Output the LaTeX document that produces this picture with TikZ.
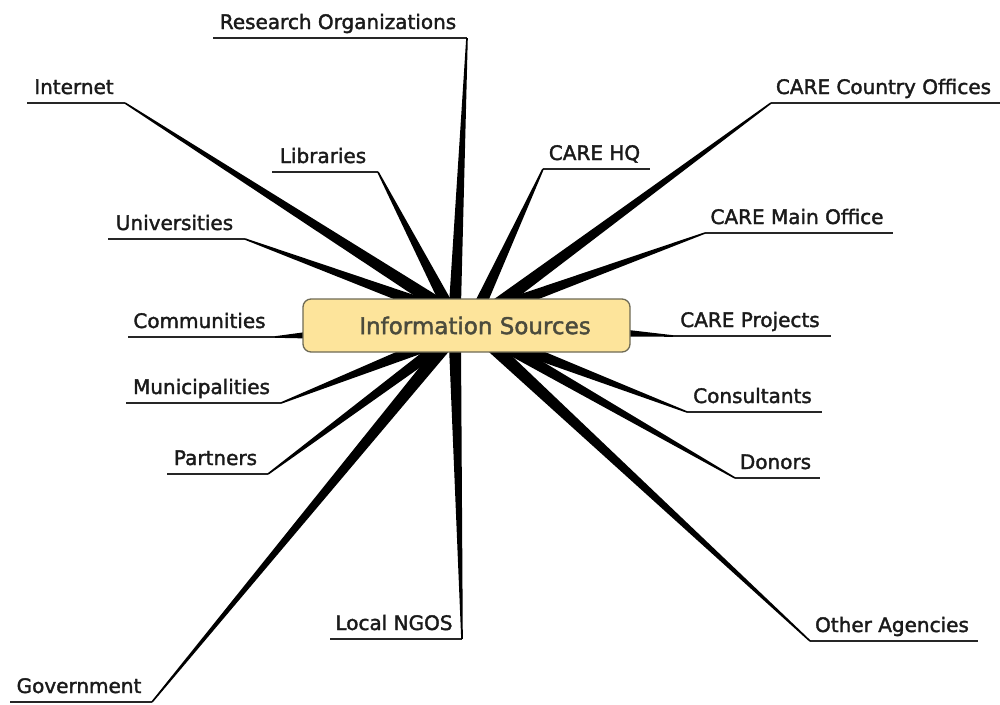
\documentclass[tikz,border=0pt]{standalone}
\usepackage{fontspec}
\setmainfont{DejaVu Sans}
\newfontfamily\lblfont{DejaVu Sans}[FakeBold=1.8]
\usetikzlibrary{calc,backgrounds}
\definecolor{nodefill}{HTML}{FDE49B}
\definecolor{nodeborder}{HTML}{6E6A55}
\definecolor{centertext}{HTML}{4B4B3D}
\definecolor{labeltext}{HTML}{1A1A1A}
\begin{document}
\begin{tikzpicture}[x=1pt,y=-1pt,
  lbl/.style={font=\lblfont\fontsize{20}{24}\selectfont, text=labeltext, anchor=base, inner sep=0pt},
  uline/.style={draw=black!85, line width=1.5pt},
  spoke/.style={fill=black},
  hub/.style={draw=nodeborder, line width=1.3pt, fill=nodefill, rounded corners=8pt,
    minimum width=327pt, minimum height=53pt, inner sep=0pt,
    font=\lblfont\fontsize{23}{28}\selectfont, text=centertext}]
\useasboundingbox (0,0) rectangle (1000,704);
\node[hub] (hub) at (466.5,325.5) {\hspace*{17pt}Information Sources};
\begin{scope}[on background layer]
\foreach \n/\t/\xl/\xr/\yy/\nx/\bx/\by/\w in {
 res/Research Organizations/213/467/38/467/455/305/6,
 int/Internet/27/125/103/125/440/305/6.5,
 lib/Libraries/272/378/172/378/447/305/6,
 hq/CARE HQ/543/650/169/543/480/305/6,
 cco/CARE Country Offices/771/1000/103/771/497/305/6.5,
 uni/Universities/108/245/239/245/425/305/6,
 cmo/CARE Main Office/705/893/233/705/507/305/6,
 com/Communities/128/275/337/275/310/335/3.5,
 cp/CARE Projects/673/831/336/673/624/333/3.5,
 mun/Municipalities/126/281/403/281/425/346/6,
 con/Consultants/687/822/412/687/515/346/6,
 par/Partners/167/268/474/268/440/346/6,
 don/Donors/735/820/478/735/505/346/6,
 ngo/Local NGOS/330/462/639/462/455/346/6,
 gov/Government/10/152/702/152/445/346/6.5,
 oth/Other Agencies/810/978/641/810/492/346/6.5}{
  \coordinate (\n-l) at (\xl,\yy);
  \coordinate (\n-r) at (\xr,\yy);
  \coordinate (\n-e) at (\nx,\yy);
  \coordinate (\n-b) at (\bx,\by);
  \node[lbl] (\n) at ({(\xl+\xr)/2-2},{\yy-9}) {\t};
  \draw[uline] (\n-l) -- (\n-r);
  \fill[spoke] ($(\n-b)!\w pt!90:(\n-e)$) -- ($(\n-e)!0.8pt!-90:(\n-b)$)
     -- ($(\n-e)!0.8pt!90:(\n-b)$) -- ($(\n-b)!\w pt!-90:(\n-e)$) -- cycle;
}
\end{scope}
\end{tikzpicture}
\end{document}
